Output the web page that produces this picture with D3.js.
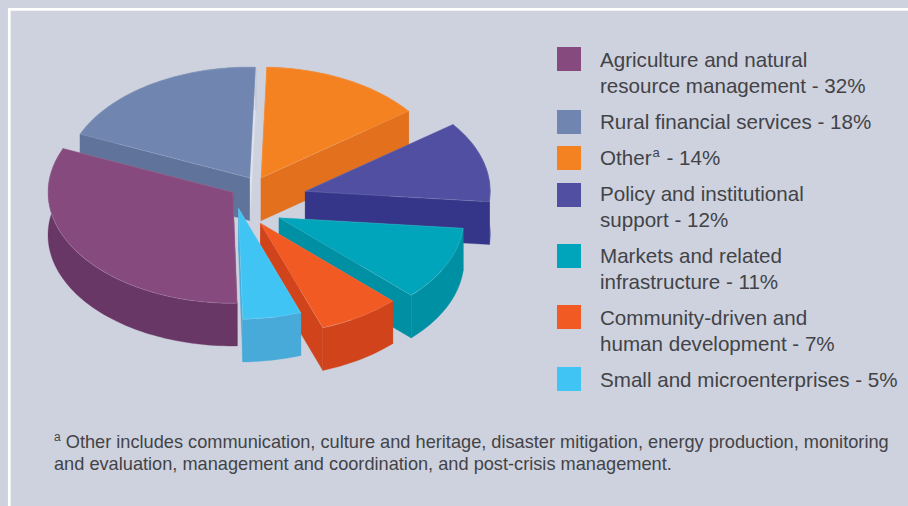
<!DOCTYPE html>
<html><head><meta charset="utf-8">
<script src="https://cdnjs.cloudflare.com/ajax/libs/d3/7.8.5/d3.min.js"></script>
<style>
html,body{margin:0;padding:0;background:#cdd2de}
svg{display:block}
text{font-family:"Liberation Sans",Arial,sans-serif;fill:#434347}
</style></head><body>
<svg id="c" width="908" height="506"></svg>
<script>
// Data: legend order
const categories = [
  ["Agriculture and natural","resource management - 32%"],
  ["Rural financial services - 18%"],
  ["Other|a| - 14%"],
  ["Policy and institutional","support - 12%"],
  ["Markets and related","infrastructure - 11%"],
  ["Community-driven and","human development - 7%"],
  ["Small and microenterprises - 5%"]
];
const statedShares = [32,18,14,12,11,7,5];
// slice sizes (percent of the turn)
const sliceShares = [31.8,19,14.2,11.8,10.8,7.2,5.1];
const topColors = ["#864a7f","#7086b0","#f58220","#514fa1","#00a5bb","#f15a22","#40c4f4"];
const wallColors = ["#693765","#60749b","#e2701d","#35368a","#0090a3","#d0431b","#47aad8"];
const footnote = ["Other includes communication, culture and heritage, disaster mitigation, energy production, monitoring",
                  "and evaluation, management and coordination, and post-crisis management."];

// Layout
const W=908,H=506, cx=261, cy=178, rx=185, ry=111, depth=42.7;
const explode = [[-28,14.3],[-11,0],[0,0],[44.3,13.3],[18,39.7],[-0.5,45.3],[-22.5,30.3]];
const drawOrder = [1,2,3,4,5,6,0];
const swatchTops = [47,110,146,183,244,305,367];
const baselines = [66.7,128.7,165,200.7,263.3,325,387.3];

const svg=d3.select("#c");
svg.append("rect").attr("width",W).attr("height",H).attr("fill","#cdd2de");
svg.append("path").attr("d",`M9.3,${H}V9.3H${W}`).attr("fill","none").attr("stroke","#fff").attr("stroke-width",2.7);

const start=178.7*Math.PI/180;
const pie=d3.pie().sort(null).value(d=>d).startAngle(start).endAngle(start+2*Math.PI);
const arcs=pie(sliceShares);
const arc=d3.arc().innerRadius(0).outerRadius(rx);
const sx=d3.scaleLinear().domain([-1,1]).range([-rx,rx]);
const sy=d3.scaleLinear().domain([-1,1]).range([-ry,ry]);
const pt=(a,dz=0)=>[sx(Math.sin(a)),sy(-Math.cos(a))+dz];
const line=d3.line();

const g=svg.append("g");
drawOrder.forEach(i=>{
  const a=arcs[i];
  const s=g.append("g").attr("transform",`translate(${cx+explode[i][0]},${cy+explode[i][1]})`);
  const n=Math.max(2,Math.ceil((a.endAngle-a.startAngle)*40));
  const angles=d3.range(n+1).map(k=>a.startAngle+(a.endAngle-a.startAngle)*k/n);
  const top=angles.map(t=>pt(t)), bot=angles.map(t=>pt(t,depth)).reverse();
  const walls=[
    {p:top.concat(bot),c:wallColors[i]},
    {p:[[0,0],pt(a.startAngle),pt(a.startAngle,depth),[0,depth]],c:wallColors[i]},
    {p:[[0,0],pt(a.endAngle),pt(a.endAngle,depth),[0,depth]],c:i===1?"#dde1ea":wallColors[i]}
  ];
  walls.forEach(w=>s.append("path").attr("d",line(w.p)+"Z").attr("fill",w.c).attr("stroke",w.c).attr("stroke-width",.3));
  s.append("path").attr("d",arc(a)).attr("transform",`scale(1,${ry/rx})`).attr("fill",topColors[i])
   .attr("stroke","#fff").attr("stroke-opacity",.3).attr("stroke-width",.6);
});

// Legend
const leg=svg.append("g");
categories.forEach((lines,i)=>{
  leg.append("rect").attr("x",557).attr("y",swatchTops[i]).attr("width",24).attr("height",24).attr("fill",topColors[i]);
  lines.forEach((t,j)=>{
    const tx=leg.append("text").attr("x",600).attr("y",baselines[i]+j*25.8).attr("font-size",20.6);
    t.split("|").forEach((p,k)=>{
      const sp=tx.append("tspan").text(p);
      if(k===1) sp.attr("font-size",13).attr("dy",-8).attr("dx",1);
      if(k===2) sp.attr("dy",8).attr("dx",1);
    });
  });
});

// Footnote
const fn=svg.append("g").attr("font-size",18.2);
const f1=fn.append("text").attr("x",54).attr("y",448);
f1.append("tspan").text("a").attr("font-size",12).attr("dy",-7);
f1.append("tspan").text(" "+footnote[0]).attr("dy",7);
fn.append("text").attr("x",54).attr("y",470).text(footnote[1]);
</script></body></html>
